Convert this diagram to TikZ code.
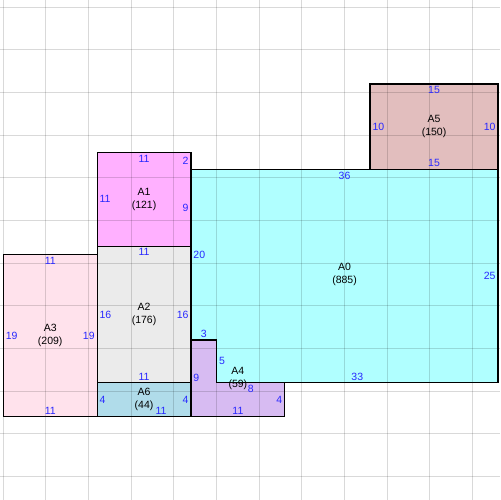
\documentclass[tikz,border=0pt]{standalone}
\usepackage{fontspec}
\setmainfont{Liberation Sans}

\definecolor{fillA0}{HTML}{B0FFFF}
\definecolor{fillA1}{HTML}{FFB0FF}
\definecolor{fillA2}{HTML}{EBEBEB}
\definecolor{fillA3}{HTML}{FFE2EC}
\definecolor{fillA4}{HTML}{D7BBF2}
\definecolor{fillA5}{HTML}{E2BEBE}
\definecolor{fillA6}{HTML}{B0DCEA}
\definecolor{lenblue}{HTML}{2828FF}

\begin{document}
\begin{tikzpicture}[x=8.53pt,y=-8.53pt,
    gridline/.style={black,opacity=.15,line width=1pt},
    outline/.style={draw=black,line width=1.3pt},
    area/.style={align=center,font=\fontsize{10.5}{13}\selectfont},
    len/.style={text=lenblue,font=\fontsize{10.5}{12}\selectfont,inner sep=2.3pt}]

      \useasboundingbox (-0.39,-0.86) rectangle (58.23,57.76);

      \begin{scope}
        \fill[fillA0] (22,19) -- (58,19) -- (58,44) -- (25,44) -- (25,39) -- (22,39) -- cycle;
        \fill[fillA1] (11,17) rectangle (22,28);
        \fill[fillA2] (11,28) rectangle (22,44);
        \fill[fillA3] (0,29) rectangle (11,48);
        \fill[fillA4] (22,39) -- (25,39) -- (25,44) -- (33,44) -- (33,48) -- (22,48) -- cycle;
        \fill[fillA5] (43,9) rectangle (58,19);
        \fill[fillA6] (11,44) rectangle (22,48);
      \end{scope}

      \foreach \k in {0,5,...,55} {
        \draw[gridline] (\k,-0.86) -- (\k,57.76);
        \draw[gridline] (-0.39,\k) -- (58.23,\k);
      }

      \begin{scope}[every path/.style={outline}]
        \path (22,19) -- (58,19) -- (58,44) -- (25,44) -- (25,39) -- (22,39) -- cycle;
        \path (11,17) rectangle (22,28);
        \path (11,28) rectangle (22,44);
        \path (0,29) rectangle (11,48);
        \path (22,39) -- (25,39) -- (25,44) -- (33,44) -- (33,48) -- (22,48) -- cycle;
        \path (43,9) rectangle (58,19);
        \path (11,44) rectangle (22,48);
      \end{scope}

      \begin{scope}[every node/.style={area}]
        \node (a0) at (40,31.3)   {A0\\(885)};
        \node (a1) at (16.5,22.5) {A1\\(121)};
        \node (a2) at (16.5,36)   {A2\\(176)};
        \node (a3) at (5.5,38.5)  {A3\\(209)};
        \node (a4) at (27.5,43.5) {A4\\(59)};
        \node (a5) at (50.5,14)   {A5\\(150)};
        \node (a6) at (16.5,46)   {A6\\(44)};
      \end{scope}

      \begin{scope}[every node/.style={len}]
        % A0
        \node[anchor=north] (a0t)  at (40,19)    {36};
        \node[anchor=west]  (a0l)  at (22,29)    {20};
        \node[anchor=east]  (a0r)  at (58,31.5)  {25};
        \node[anchor=south] (a0b)  at (41.5,44)  {33};
        \node[anchor=south] (a0nt) at (23.5,39)  {3};
        \node[anchor=west]  (a0nr) at (25,41.5)  {5};
        % A1
        \node[anchor=north] (a1t)  at (16.5,17)  {11};
        \node[anchor=west]  (a1l)  at (11,22.5)  {11};
        \node[anchor=east]  (a1r)  at (22,18)    {2};
        \node[anchor=east]  (a1s)  at (22,23.5)  {9};
        % A2
        \node[anchor=north] (a2t)  at (16.5,28)  {11};
        \node[anchor=west]  (a2l)  at (11,36)    {16};
        \node[anchor=east]  (a2r)  at (22,36)    {16};
        \node[anchor=south] (a2b)  at (16.5,44)  {11};
        % A3
        \node[anchor=north] (a3t)  at (5.5,29)   {11};
        \node[anchor=west]  (a3l)  at (0,38.5)   {19};
        \node[anchor=east]  (a3r)  at (11,38.5)  {19};
        \node[anchor=south] (a3b)  at (5.5,48)   {11};
        % A4
        \node[anchor=west]  (a4l)  at (22,43.5)  {9};
        \node[anchor=north] (a4t)  at (29,44)    {8};
        \node[anchor=east]  (a4r)  at (33,46)    {4};
        \node[anchor=south] (a4b)  at (27.5,48)  {11};
        % A5
        \node[anchor=north] (a5t)  at (50.5,9)   {15};
        \node[anchor=west]  (a5l)  at (43,14)    {10};
        \node[anchor=east]  (a5r)  at (58,14)    {10};
        \node[anchor=south] (a5b)  at (50.5,19)  {15};
        % A6
        \node[anchor=west]  (a6l)  at (11,46)    {4};
        \node[anchor=east]  (a6r)  at (22,46)    {4};
        \node[anchor=south] (a6b)  at (18.5,48)  {11};
      \end{scope}

    \end{tikzpicture}
\end{document}
